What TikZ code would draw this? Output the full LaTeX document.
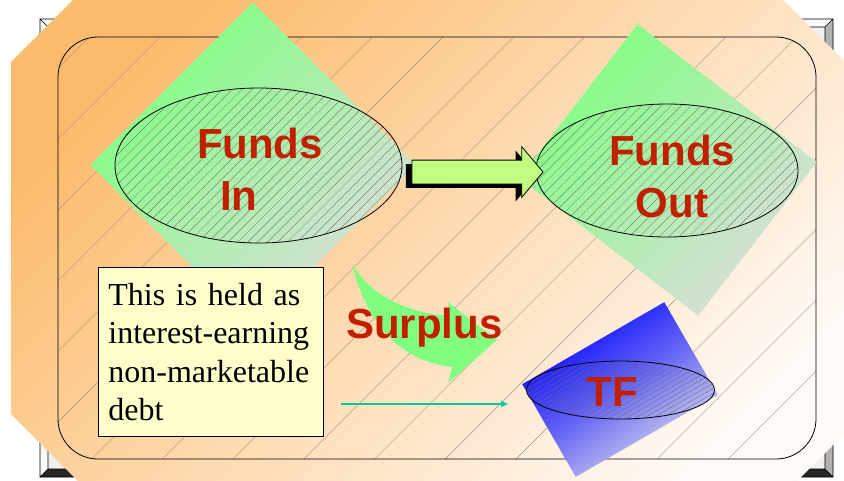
\documentclass[tikz,border=0pt]{standalone}
\usepackage{fontspec}
\setmainfont{Liberation Serif}
\newfontfamily\labelfont{Liberation Sans}
\usepackage{xcolor}
\usepackage{tikz}
\usetikzlibrary{positioning,shapes.geometric,shapes.arrows,shadows,patterns.meta,arrows.meta}
\definecolor{orngdeep}{RGB}{252,187,108}
\definecolor{orngpale}{RGB}{255,250,246}
\definecolor{greenlit}{RGB}{128,255,128}
\definecolor{greengray}{RGB}{218,222,218}
\definecolor{limefill}{RGB}{192,255,128}
\definecolor{labelred}{RGB}{192,32,0}
\definecolor{notefill}{RGB}{255,255,204}
\definecolor{heldteal}{RGB}{0,204,153}
\definecolor{hatchline}{RGB}{160,142,126}
\definecolor{tfblue}{RGB}{0,0,255}
\definecolor{tfgray}{RGB}{226,226,234}

\begin{document}
\begin{tikzpicture}[
  x=1pt, y=-1pt,
  every node/.style={inner sep=0pt},
  fundsbox/.style={rectangle, top color=greenlit, bottom color=greengray, shading angle=45},
  fundsell/.style={ellipse, draw, line width=0.8pt, pattern={Lines[angle=45,distance=7pt,line width=0.3pt]}, pattern color=black!60},
  bigred/.style={font=\labelfont\bfseries\fontsize{42}{52}\selectfont, text=labelred},
  flowarrow/.style={single arrow, draw, line width=0.8pt, fill=limefill, minimum height=131, inner sep=11.5,
    single arrow head extend=13.5, single arrow tip angle=100,
    general shadow={fill=black, shadow xshift=-6pt, shadow yshift=-4pt}},
  tfbox/.style={rectangle, minimum width=164, minimum height=107, rotate=30, top color=tfblue, bottom color=tfgray,
    middle color=tfblue!55!tfgray, shading angle=35},
  notebox/.style={draw, line width=0.8pt, fill=notefill, anchor=north west, align=left, text width=205, inner xsep=10,
    minimum height=169, font=\fontsize{32}{38.5}\selectfont},
  heldarrow/.style={heldteal, line width=1.4pt, -{Triangle[length=7pt,width=6pt]}}
]
\useasboundingbox (0,0) rectangle (844,480);
\clip (0,0) rectangle (844,480);
\fill[white] (0,0) rectangle (844,480);

% bevelled frame behind the slide
\fill[gray!12] (40,19) rectangle (833,477);
\fill[gray!5] (40,19) -- (833,19) -- (825,27) -- (48,27) -- cycle;
\fill[gray!5] (40,19) -- (48,27) -- (48,469) -- (40,477) -- cycle;
\fill[gray!60] (833,19) -- (833,477) -- (825,469) -- (825,27) -- cycle;
\fill[black!85] (40,477) -- (48,469) -- (825,469) -- (833,477) -- cycle;
\draw[line width=0.6pt] (40,19) rectangle (833,477) (48,27) rectangle (825,469)
  (40,19) -- (48,27) (833,19) -- (825,27) (40,477) -- (48,469) (833,477) -- (825,469);

% octagon backdrop
\shade[top color=orngdeep, bottom color=orngpale, shading angle=45]
  (11,62) -- (93,-20) -- (763,-20) -- (864,81) -- (864,414) -- (778,500) -- (97,500) -- (11,414) -- cycle;
\draw[line width=0.8pt, rounded corners=40pt, pattern={Lines[angle=45,distance=50pt,line width=0.4pt]}, pattern color=hatchline]
  (58,37) rectangle (816,459);

\node[fundsbox, minimum width=230, minimum height=230, rotate=-45] (indiamond) at (253,165) {};
\node[fundsbox, minimum width=226, minimum height=194, rotate=-37.6] (outdiamond) at (668,170) {};
\node[fundsell, minimum width=287, minimum height=155] (inell) at (258.5,165.5) {};
\node[fundsell, minimum width=262, minimum height=133] (outell) at (667,170.5) {};
\node[bigred, align=left] (inlbl) at (260,169) {Funds\\\hspace*{23pt}In};
\node[bigred, align=center] (outlbl) at (672,176) {Funds\\Out};

\node[tfbox] (tfrect) at (620,389.5) {};
\node[fundsell, pattern={Lines[angle=30,distance=4.4pt,line width=0.3pt]}, minimum width=188, minimum height=58] (tfell) at (620.5,390) {};
\node[bigred] (tflbl) at (612,392) {TF};

\node[flowarrow] (flow) at (472.5,172) {};

\node[notebox] (note) at (98,267) {This is held as\\interest-earning\\non-marketable\\debt};

\fill[greenlit] (352,264) .. controls (372,296) and (405,312) .. (449,316) -- (448,302) -- (497,340) -- (448,383)
  -- (452,367) .. controls (405,362) and (368,330) .. (352,264) -- cycle;
\node[bigred, anchor=base west] (surplus) at (346,338) {Surplus};

\coordinate (tfend) at (508,404);
\draw[heldarrow] ([xshift=17pt]note.east |- tfend) -- (tfend);
\end{tikzpicture}
\end{document}
